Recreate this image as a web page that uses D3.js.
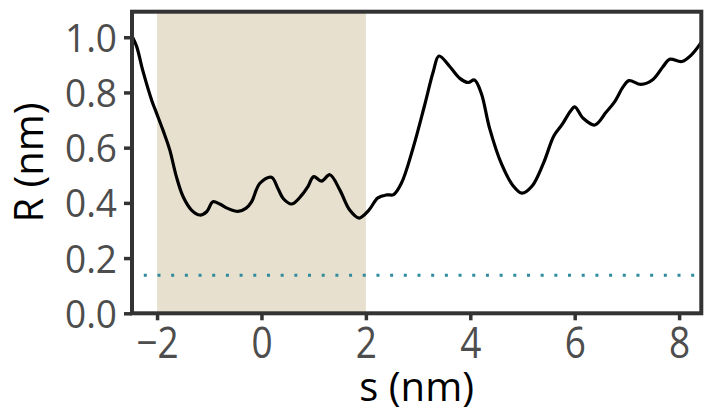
<!DOCTYPE html>
<html>
<head>
<meta charset="utf-8">
<script src="https://cdn.jsdelivr.net/npm/d3@7"></script>
<style>
  html, body { margin: 0; padding: 0; background: #fff; }
  svg { display: block; }
  text { font-family: "Open Sans", "Noto Sans", sans-serif; }
</style>
</head>
<body>
<svg id="chart" width="704" height="417"></svg>
<script>
// ---- data ----
const sValues = [-2.48, -2.39, -2.27, -2.1, -2.01, -1.88, -1.757, -1.63, -1.5, -1.34, -1.18, -1.05, -0.93, -0.8, -0.646, -0.45, -0.3, -0.19, -0.03, 0.19, 0.32, 0.42, 0.58, 0.78, 0.89, 1.0, 1.15, 1.31, 1.5, 1.69, 1.87, 2.05, 2.23, 2.4, 2.53, 2.68, 2.9, 3.12, 3.29, 3.40, 3.61, 3.80, 3.96, 4.08, 4.21, 4.37, 4.6, 4.82, 4.99, 5.18, 5.4, 5.6, 5.76, 5.91, 6.0, 6.16, 6.385, 6.6, 6.76, 6.93, 7.04, 7.27, 7.5, 7.69, 7.82, 8.05, 8.24, 8.44];
const rValues = [1.005, 0.966, 0.877, 0.77, 0.725, 0.66, 0.592, 0.495, 0.422, 0.374, 0.356, 0.368, 0.404, 0.396, 0.38, 0.369, 0.38, 0.404, 0.471, 0.493, 0.45, 0.415, 0.396, 0.43, 0.459, 0.495, 0.479, 0.502, 0.447, 0.374, 0.345, 0.372, 0.418, 0.429, 0.43, 0.471, 0.596, 0.75, 0.875, 0.932, 0.893, 0.851, 0.836, 0.845, 0.797, 0.67, 0.54, 0.462, 0.435, 0.46, 0.543, 0.642, 0.684, 0.73, 0.748, 0.707, 0.682, 0.728, 0.765, 0.821, 0.843, 0.829, 0.847, 0.893, 0.92, 0.912, 0.937, 0.986];
const shadeRange = [-2, 2];
const thresholdR = 0.138;
const xTicks = [-2, 0, 2, 4, 6, 8];
const yTicks = [0.0, 0.2, 0.4, 0.6, 0.8, 1.0];
const xLabel = "s (nm)";
const yLabel = "R (nm)";

// ---- layout ----
const svg = d3.select("#chart");
const pLeft = 132, pRight = 701.3, pTop = 11.7, pBottom = 313.3;
const x = d3.scaleLinear().domain([-2.48, 8.425]).range([pLeft, pRight]);
const y = d3.scaleLinear().domain([0, 1.0925]).range([pBottom, pTop]);

const defs = svg.append("defs");
defs.append("clipPath").attr("id", "clip")
  .append("rect").attr("x", pLeft).attr("y", pTop).attr("width", pRight - pLeft).attr("height", pBottom - pTop);

const panel = svg.append("g").attr("clip-path", "url(#clip)");

// shaded region
panel.append("rect")
  .attr("x", x(shadeRange[0])).attr("y", pTop)
  .attr("width", x(shadeRange[1]) - x(shadeRange[0]))
  .attr("height", pBottom - pTop)
  .attr("fill", "#e8e0cf");

// dotted threshold line
panel.append("line")
  .attr("x1", 143.8).attr("x2", pRight)
  .attr("y1", y(thresholdR)).attr("y2", y(thresholdR))
  .attr("stroke", "#2e8a9c").attr("stroke-width", 3)
  .attr("stroke-dasharray", "3 10.685");

// curve
const pts = sValues.map((s, i) => [s, rValues[i]]);
panel.append("path")
  .datum(pts)
  .attr("fill", "none")
  .attr("stroke", "#000")
  .attr("stroke-width", 3.2)
  .attr("stroke-linejoin", "round")
  .attr("d", d3.line().x(d => x(d[0])).y(d => y(d[1])).curve(d3.curveCatmullRom.alpha(0.5)));

// axes
const xAxis = svg.append("g").attr("transform", `translate(0,${pBottom})`)
  .call(d3.axisBottom(x).tickValues(xTicks).tickSize(7).tickPadding(6)
    .tickFormat(d => d < 0 ? "\u2212" + Math.abs(d) : String(d)));
const yAxis = svg.append("g").attr("transform", `translate(${pLeft},0)`)
  .call(d3.axisLeft(y).tickValues(yTicks).tickSize(8).tickPadding(6)
    .tickFormat(d3.format(".1f")));

[xAxis, yAxis].forEach(g => {
  g.select(".domain").remove();
  g.selectAll(".tick line").attr("stroke", "#333").attr("stroke-width", 3.5);
  g.selectAll(".tick text").attr("fill", "#4d4d4d").style("font-size", "37px");
});
yAxis.selectAll(".tick text").attr("dy", null).attr("x", -15)
  .attr("transform", "translate(0,14) scale(1,1.02)");
xAxis.selectAll(".tick text").attr("dy", null).attr("y", 0)
  .attr("transform", "translate(0,45) scale(1,1.17)");

// frame
svg.append("rect")
  .attr("x", pLeft).attr("y", pTop)
  .attr("width", pRight - pLeft).attr("height", pBottom - pTop)
  .attr("fill", "none").attr("stroke", "#333").attr("stroke-width", 4);

// titles
svg.append("text")
  .attr("x", (pLeft + pRight) / 2).attr("y", 401)
  .attr("text-anchor", "middle").attr("fill", "#000")
  .style("font-size", "40px").text(xLabel);
svg.append("text")
  .attr("transform", `translate(43,${(pTop + pBottom) / 2}) rotate(-90)`)
  .attr("text-anchor", "middle").attr("fill", "#000")
  .style("font-size", "40px").text(yLabel);
</script>
</body>
</html>
